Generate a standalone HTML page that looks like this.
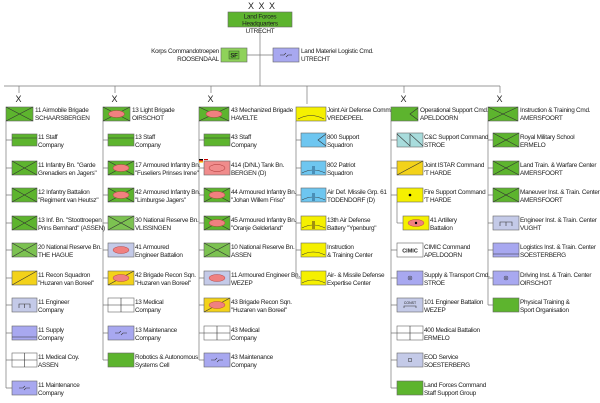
<!DOCTYPE html>
<html><head><meta charset="utf-8"><style>
html,body{margin:0;padding:0;background:#fff;width:600px;height:403px;overflow:hidden}
svg text{font-family:"Liberation Sans",sans-serif;font-size:6.4px;fill:#222;letter-spacing:-0.25px}
.b{stroke:#666;stroke-width:0.6}
.l{stroke:#777;stroke-width:0.7;fill:none}
.x{stroke:#333;stroke-width:0.6;fill:none}
</style></head><body>
<svg width="600" height="403" viewBox="0 0 600 403">
<!-- top -->
<text x="248" y="9" style="font-size:9px;letter-spacing:1px">X X X</text>
<rect x="228" y="12" width="64" height="15" fill="#5db42e" class="b"/>
<text x="260" y="18.5" text-anchor="middle">Land Forces</text>
<text x="260" y="25.5" text-anchor="middle">Headquarters</text>
<text x="260" y="33" text-anchor="middle">UTRECHT</text>
<line x1="260" y1="28" x2="260" y2="86" class="l"/>
<line x1="247" y1="55" x2="273" y2="55" class="l"/>
<rect x="221" y="48" width="26" height="14" fill="#8fd25a" class="b"/>
<rect x="229" y="51" width="10" height="8" fill="#6cc03a" stroke="#333" stroke-width="0.4"/>
<text x="234" y="57.5" text-anchor="middle" style="font-size:6px;font-weight:bold">SF</text>
<text x="219" y="53" text-anchor="end">Korps Commandotroepen</text>
<text x="219" y="61" text-anchor="end">ROOSENDAAL</text>
<rect x="273" y="48" width="26" height="14" fill="#a8a8f0" class="b"/>
<path d="M280 55h4l2-2M292 55h-4l-2 2" class="x"/>
<text x="301" y="53">Land Materiel Logistic Cmd.</text>
<text x="301" y="61">UTRECHT</text>
<line x1="4" y1="86" x2="500" y2="86" class="l"/>
<!-- column drops -->
<g class="l">
<line x1="19" y1="86" x2="19" y2="93"/><line x1="115" y1="86" x2="115" y2="93"/><line x1="211" y1="86" x2="211" y2="93"/>
<line x1="307" y1="86" x2="307" y2="104"/><line x1="404" y1="86" x2="404" y2="93"/><line x1="500" y1="86" x2="500" y2="93"/>
</g>
<g style="font-size:9px">
<text x="15.5" y="102" style="font-size:9px">X</text><text x="111.5" y="102" style="font-size:9px">X</text><text x="207.5" y="102" style="font-size:9px">X</text>
<text x="400.5" y="102" style="font-size:9px">X</text><text x="496.5" y="102" style="font-size:9px">X</text>
</g>
<!-- spines -->
<g class="l">
<line x1="6" y1="121" x2="6" y2="388"/><line x1="103" y1="121" x2="103" y2="360"/><line x1="199" y1="121" x2="199" y2="360"/>
<line x1="296" y1="121" x2="296" y2="278"/><line x1="391" y1="121" x2="391" y2="388"/><line x1="488" y1="121" x2="488" y2="305"/>
<line x1="397" y1="202" x2="397" y2="223"/><line x1="397" y1="223" x2="403" y2="223"/>
<path d="M6 140h6M6 168h6M6 195h6M6 223h6M6 250h6M6 278h6M6 305h6M6 333h6M6 360h6M6 388h6"/>
<path d="M103 140h5M103 168h5M103 195h5M103 223h5M103 250h5M103 278h5M103 305h5M103 333h5M103 360h5"/>
<path d="M199 140h5M199 168h5M199 195h5M199 223h5M199 250h5M199 278h5M199 305h5M199 333h5M199 360h5"/>
<path d="M296 140h5M296 168h5M296 195h5M296 223h5M296 250h5M296 278h5"/>
<path d="M391 140h6M391 168h6M391 195h6M391 250h6M391 278h6M391 305h6M391 333h6M391 360h6M391 388h6"/>
<path d="M488 140h5M488 168h5M488 195h5M488 223h5M488 250h5M488 278h5M488 305h5"/>
</g>
<!-- brigade boxes -->
<rect x="6" y="107" width="27" height="14" fill="#5db42e" class="b"/><path d="M6 107L33 121M33 107L6 121" class="x"/>
<text x="35" y="112">11 Airmobile Brigade</text><text x="35" y="120">SCHAARSBERGEN</text>
<rect x="103" y="107" width="27" height="14" fill="#5db42e" class="b"/><path d="M103 107L130 121M130 107L103 121" class="x"/><ellipse cx="116.5" cy="114" rx="8" ry="3.5" fill="#f08080" stroke="#a33" stroke-width="0.4"/>
<text x="132" y="112">13 Light Brigade</text><text x="132" y="120">OIRSCHOT</text>
<rect x="199" y="107" width="30" height="14" fill="#5db42e" class="b"/><path d="M199 107L229 121M229 107L199 121" class="x"/><ellipse cx="214" cy="114" rx="8" ry="3.5" fill="#f08080" stroke="#a33" stroke-width="0.4"/>
<text x="231" y="112">43 Mechanized Brigade</text><text x="231" y="120">HAVELTE</text>
<rect x="296" y="107" width="30" height="14" fill="#f5f000" class="b"/><path d="M298 119Q311 112 324 119" class="x"/>
<text x="327" y="112">Joint Air Defense Command</text><text x="327" y="120">VREDEPEEL</text>
<rect x="391" y="107" width="27" height="14" fill="#5db42e" class="b"/><path d="M418 108L410 114L418 120" class="x"/>
<text x="420" y="112">Operational Support Cmd.</text><text x="420" y="120">APELDOORN</text>
<rect x="488" y="107" width="30" height="14" fill="#5db42e" class="b"/><path d="M488 107L518 121M518 107L488 121" class="x"/>
<text x="520" y="112">Instruction &amp; Training Cmd.</text><text x="520" y="120">AMERSFOORT</text>

<!-- col1 children x12 w25 -->
<g>
<rect x="12" y="134" width="25" height="12" fill="#5db42e" class="b"/><line x1="12" y1="138" x2="37" y2="138" class="x"/>
<text x="38" y="139">11 Staff</text><text x="38" y="147">Company</text>
<rect x="12" y="161" width="25" height="14" fill="#5db42e" class="b"/><path d="M12 161L37 175M37 161L12 175" class="x"/>
<text x="38" y="167">11 Infantry Bn. "Garde</text><text x="38" y="175">Grenadiers en Jagers"</text>
<rect x="12" y="188" width="25" height="14" fill="#5db42e" class="b"/><path d="M12 188L37 202M37 188L12 202" class="x"/>
<text x="38" y="194">12 Infantry Battalion</text><text x="38" y="202">"Regiment van Heutsz"</text>
<rect x="12" y="216" width="25" height="14" fill="#5db42e" class="b"/><path d="M12 216L37 230M37 216L12 230" class="x"/>
<text x="38" y="222">13 Inf. Bn. "Stoottroepen</text><text x="38" y="230">Prins Bernhard" (ASSEN)</text>
<rect x="12" y="243" width="25" height="14" fill="#7cc251" class="b"/><path d="M12 243L37 257M37 243L12 257" class="x"/>
<text x="38" y="249">20 National Reserve Bn.</text><text x="38" y="257">THE HAGUE</text>
<rect x="12" y="271" width="25" height="14" fill="#f3d21a" class="b"/><path d="M12 285L37 271" class="x"/>
<text x="38" y="277">11 Recon Squadron</text><text x="38" y="285">"Huzaren van Boreel"</text>
<rect x="12" y="298" width="25" height="14" fill="#c4cae8" class="b"/><path d="M19 308v-4h11v4M24.5 304v4" class="x"/>
<text x="38" y="304">11 Engineer</text><text x="38" y="312">Company</text>
<rect x="12" y="326" width="25" height="14" fill="#a8a8f0" class="b"/><line x1="12" y1="337" x2="37" y2="337" class="x"/>
<text x="38" y="332">11 Supply</text><text x="38" y="340">Company</text>
<rect x="12" y="353" width="25" height="14" fill="#fff" class="b"/><path d="M24.5 353v14M12 360h25" class="x"/>
<text x="38" y="359">11 Medical Coy.</text><text x="38" y="367">ASSEN</text>
<rect x="12" y="381" width="25" height="14" fill="#a8a8f0" class="b"/><path d="M19 388h4l2-2M30 388h-4l-2 2" class="x"/>
<text x="38" y="387">11 Maintenance</text><text x="38" y="395">Company</text>
</g>
<!-- col2 x108 -->
<g>
<rect x="108" y="134" width="26" height="12" fill="#5db42e" class="b"/><line x1="108" y1="138" x2="134" y2="138" class="x"/>
<text x="135" y="139">13 Staff</text><text x="135" y="147">Company</text>
<rect x="108" y="161" width="26" height="14" fill="#5db42e" class="b"/><path d="M108 161L134 175M134 161L108 175" class="x"/><ellipse cx="121" cy="168" rx="8" ry="3.5" fill="#f08080" stroke="#a33" stroke-width="0.4"/>
<text x="135" y="167">17 Armoured Infantry Bn.</text><text x="135" y="175">"Fuseliers Prinses Irene"</text>
<rect x="108" y="188" width="26" height="14" fill="#5db42e" class="b"/><path d="M108 188L134 202M134 188L108 202" class="x"/><ellipse cx="121" cy="195" rx="8" ry="3.5" fill="#f08080" stroke="#a33" stroke-width="0.4"/>
<text x="135" y="194">42 Armoured Infantry Bn.</text><text x="135" y="202">"Limburgse Jagers"</text>
<rect x="108" y="216" width="26" height="14" fill="#7cc251" class="b"/><path d="M108 216L134 230M134 216L108 230" class="x"/>
<text x="135" y="222">30 National Reserve Bn.</text><text x="135" y="230">VLISSINGEN</text>
<rect x="108" y="243" width="26" height="14" fill="#c4cae8" class="b"/><ellipse cx="121" cy="250" rx="8" ry="3.5" fill="#f08080" stroke="#a33" stroke-width="0.4"/>
<text x="135" y="249">41 Armoured</text><text x="135" y="257">Engineer Battalion</text>
<rect x="108" y="271" width="26" height="14" fill="#f3d21a" class="b"/><path d="M108 285L134 271" class="x"/><ellipse cx="121" cy="278" rx="8" ry="3.5" fill="#f08080" stroke="#a33" stroke-width="0.4"/>
<text x="135" y="277">42 Brigade Recon Sqn.</text><text x="135" y="285">"Huzaren van Boreel"</text>
<rect x="108" y="298" width="26" height="14" fill="#fff" class="b"/><path d="M121 298v14M108 305h26" class="x"/>
<text x="135" y="304">13 Medical</text><text x="135" y="312">Company</text>
<rect x="108" y="326" width="26" height="14" fill="#a8a8f0" class="b"/><path d="M115 333h4l2-2M127 333h-4l-2 2" class="x"/>
<text x="135" y="332">13 Maintenance</text><text x="135" y="340">Company</text>
<rect x="108" y="353" width="26" height="14" fill="#5db42e" class="b"/>
<text x="135" y="359">Robotics &amp; Autonomous</text><text x="135" y="367">Systems Cell</text>
</g>
<!-- col3 x204 -->
<g>
<rect x="204" y="134" width="26" height="12" fill="#5db42e" class="b"/><line x1="204" y1="138" x2="230" y2="138" class="x"/>
<text x="231" y="139">43 Staff</text><text x="231" y="147">Company</text>
<rect x="199" y="159" width="4" height="1.2" fill="#000"/><rect x="199" y="160.2" width="4" height="1.2" fill="#d00"/><rect x="199" y="161.4" width="4" height="1.2" fill="#fc0"/>
<rect x="204" y="159" width="4" height="1.2" fill="#c00"/><rect x="204" y="160.2" width="4" height="1.2" fill="#fff"/><rect x="204" y="161.4" width="4" height="1.2" fill="#24a"/>
<rect x="204" y="161" width="26" height="14" fill="#f08c8c" class="b"/><ellipse cx="217" cy="168" rx="8" ry="3.5" fill="none" stroke="#a33" stroke-width="0.5"/>
<text x="231" y="167">414 (D/NL) Tank Bn.</text><text x="231" y="175">BERGEN (D)</text>
<rect x="204" y="188" width="26" height="14" fill="#5db42e" class="b"/><path d="M204 188L230 202M230 188L204 202" class="x"/><ellipse cx="217" cy="195" rx="8" ry="3.5" fill="#f08080" stroke="#a33" stroke-width="0.4"/>
<text x="231" y="194">44 Armoured Infantry Bn.</text><text x="231" y="202">"Johan Willem Friso"</text>
<rect x="204" y="216" width="26" height="14" fill="#5db42e" class="b"/><path d="M204 216L230 230M230 216L204 230" class="x"/><ellipse cx="217" cy="223" rx="8" ry="3.5" fill="#f08080" stroke="#a33" stroke-width="0.4"/>
<text x="231" y="222">45 Armoured Infantry Bn.</text><text x="231" y="230">"Oranje Gelderland"</text>
<rect x="204" y="243" width="26" height="14" fill="#7cc251" class="b"/><path d="M204 243L230 257M230 243L204 257" class="x"/>
<text x="231" y="249">10 National Reserve Bn.</text><text x="231" y="257">ASSEN</text>
<rect x="204" y="271" width="26" height="14" fill="#c4cae8" class="b"/><ellipse cx="217" cy="278" rx="8" ry="3.5" fill="#f08080" stroke="#a33" stroke-width="0.4"/>
<text x="231" y="277">11 Armoured Engineer Bn.</text><text x="231" y="285">WEZEP</text>
<rect x="204" y="298" width="26" height="14" fill="#f3d21a" class="b"/><path d="M204 312L230 298" class="x"/><ellipse cx="217" cy="305" rx="8" ry="3.5" fill="#f08080" stroke="#a33" stroke-width="0.4"/>
<text x="231" y="304">43 Brigade Recon Sqn.</text><text x="231" y="312">"Huzaren van Boreel"</text>
<rect x="204" y="326" width="26" height="14" fill="#fff" class="b"/><path d="M217 326v14M204 333h26" class="x"/>
<text x="231" y="332">43 Medical</text><text x="231" y="340">Company</text>
<rect x="204" y="353" width="26" height="14" fill="#a8a8f0" class="b"/><path d="M211 360h4l2-2M223 360h-4l-2 2" class="x"/>
<text x="231" y="359">43 Maintenance</text><text x="231" y="367">Company</text>
</g>
<!-- col4 x301 -->
<g>
<rect x="301" y="133" width="25" height="14" fill="#6ec6f0" class="b"/><path d="M326 134L318 140L326 146" class="x"/>
<text x="327" y="139">800 Support</text><text x="327" y="147">Squadron</text>
<rect x="301" y="161" width="25" height="14" fill="#6ec6f0" class="b"/><path d="M302 173Q313 167 325 173" class="x"/><rect x="312" y="166" width="3" height="8" fill="#4a8fb8"/>
<text x="327" y="167">802 Patriot</text><text x="327" y="175">Squadron</text>
<rect x="301" y="188" width="25" height="14" fill="#6ec6f0" class="b"/><path d="M302 200Q313 194 325 200" class="x"/><rect x="312" y="193" width="3" height="8" fill="#4a8fb8"/>
<text x="327" y="194">Air Def. Missile Grp. 61</text><text x="327" y="202">TODENDORF (D)</text>
<rect x="301" y="216" width="25" height="14" fill="#f5f000" class="b"/><path d="M302 228Q313 222 325 228" class="x"/><rect x="312" y="221" width="3" height="8" fill="#a09010"/>
<text x="327" y="222">13th Air Defense</text><text x="327" y="230">Battery "Ypenburg"</text>
<rect x="301" y="243" width="25" height="14" fill="#f5f000" class="b"/><path d="M302 255Q313 249 325 255" class="x"/>
<text x="327" y="249">Instruction</text><text x="327" y="257">&amp; Training Center</text>
<rect x="301" y="271" width="25" height="14" fill="#f5f000" class="b"/><path d="M302 283Q313 277 325 283" class="x"/>
<text x="327" y="277">Air- &amp; Missile Defense</text><text x="327" y="285">Expertise Center</text>
</g>
<!-- col5 x397 -->
<g>
<rect x="397" y="133" width="26" height="14" fill="#a8dcdc" class="b"/><path d="M397 134L410 146V134L423 146" class="x"/>
<text x="424" y="139">C&amp;C Support Command</text><text x="424" y="147">STROE</text>
<rect x="397" y="161" width="26" height="14" fill="#f3d21a" class="b"/><path d="M397 175L423 161" class="x"/>
<text x="424" y="167">Joint ISTAR Command</text><text x="424" y="175">'T HARDE</text>
<rect x="397" y="188" width="26" height="14" fill="#f5f000" class="b"/><circle cx="410" cy="195" r="1.3" fill="#000"/>
<text x="424" y="194">Fire Support Command</text><text x="424" y="202">'T HARDE</text>
<rect x="403" y="216" width="26" height="14" fill="#f5f000" class="b"/><ellipse cx="416" cy="223" rx="8" ry="3.5" fill="#f08080" stroke="#a33" stroke-width="0.4"/><circle cx="416" cy="223" r="1.2" fill="#000"/>
<text x="430" y="222">41 Artillery</text><text x="430" y="230">Battalion</text>
<rect x="397" y="243" width="26" height="14" fill="#fff" class="b"/><text x="410" y="252.5" text-anchor="middle" style="font-size:5.5px;font-weight:bold;letter-spacing:0">CIMIC</text>
<text x="424" y="249">CIMIC Command</text><text x="424" y="257">APELDOORN</text>
<rect x="397" y="271" width="26" height="14" fill="#a8a8f0" class="b"/><circle cx="410" cy="278" r="2" fill="none" stroke="#333" stroke-width="0.5"/><circle cx="410" cy="278" r="0.8" fill="#333"/>
<text x="424" y="277">Supply &amp; Transport Cmd.</text><text x="424" y="285">STROE</text>
<rect x="397" y="298" width="26" height="14" fill="#c4cae8" class="b"/><text x="410" y="304" text-anchor="middle" style="font-size:3.5px;letter-spacing:0">CONST</text><path d="M404 308v-2h12v2" class="x"/>
<text x="424" y="304">101 Engineer Battalion</text><text x="424" y="312">WEZEP</text>
<rect x="397" y="326" width="26" height="14" fill="#fff" class="b"/><path d="M410 326v14M397 333h26" class="x"/>
<text x="424" y="332">400 Medical Battalion</text><text x="424" y="340">ERMELO</text>
<rect x="397" y="353" width="26" height="14" fill="#c4cae8" class="b"/><rect x="408.5" y="358.5" width="3" height="3" fill="none" stroke="#333" stroke-width="0.5"/>
<text x="424" y="359">EOD Service</text><text x="424" y="367">SOESTERBERG</text>
<rect x="397" y="381" width="26" height="14" fill="#5db42e" class="b"/>
<text x="424" y="387">Land Forces Command</text><text x="424" y="395">Staff Support Group</text>
</g>
<!-- col6 x493 -->
<g>
<rect x="493" y="133" width="26" height="14" fill="#5db42e" class="b"/><path d="M493 133L519 147M519 133L493 147" class="x"/>
<text x="520" y="139">Royal Military School</text><text x="520" y="147">ERMELO</text>
<rect x="493" y="161" width="26" height="14" fill="#5db42e" class="b"/><path d="M493 161L519 175M519 161L493 175" class="x"/>
<text x="520" y="167">Land Train. &amp; Warfare Center</text><text x="520" y="175">AMERSFOORT</text>
<rect x="493" y="188" width="26" height="14" fill="#5db42e" class="b"/><path d="M493 188L519 202M519 188L493 202" class="x"/>
<text x="520" y="194">Maneuver Inst. &amp; Train. Center</text><text x="520" y="202">AMERSFOORT</text>
<rect x="493" y="216" width="26" height="14" fill="#c4cae8" class="b"/><path d="M500 226v-4h12v4M506 222v4" class="x"/>
<text x="520" y="222">Engineer Inst. &amp; Train. Center</text><text x="520" y="230">VUGHT</text>
<rect x="493" y="243" width="26" height="14" fill="#a8a8f0" class="b"/><line x1="493" y1="254" x2="519" y2="254" class="x"/>
<text x="520" y="249">Logistics Inst. &amp; Train. Center</text><text x="520" y="257">SOESTERBERG</text>
<rect x="493" y="271" width="26" height="14" fill="#a8a8f0" class="b"/><circle cx="506" cy="278" r="2" fill="none" stroke="#333" stroke-width="0.5"/><circle cx="506" cy="278" r="0.8" fill="#333"/>
<text x="520" y="277">Driving Inst. &amp; Train. Center</text><text x="520" y="285">OIRSCHOT</text>
<rect x="493" y="298" width="26" height="14" fill="#5db42e" class="b"/>
<text x="520" y="304">Physical Training &amp;</text><text x="520" y="312">Sport Organisation</text>
</g>
</svg>
</body></html>
